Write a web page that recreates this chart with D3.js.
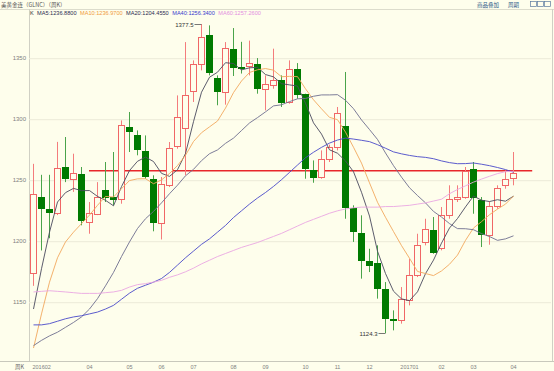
<!DOCTYPE html>
<html><head><meta charset="utf-8">
<script src="https://cdn.jsdelivr.net/npm/d3@7/dist/d3.min.js"></script>
<style>
html,body{margin:0;padding:0;background:#fefeec;}
svg{display:block;font-family:"Liberation Sans","DejaVu Sans",sans-serif;}
</style>
</head><body>
<svg id="chart" width="554" height="371"></svg>
<script>
// ---------------- data ----------------
const weeks = ["160212","160219","160226","160304","160311","160318","160325","160401","160408","160415","160422","160429","160506","160513","160520","160527","160603","160610","160617","160624","160701","160708","160715","160722","160729","160805","160812","160819","160826","160902","160909","160916","160923","160930","161007","161014","161021","161028","161104","161111","161118","161125","161202","161209","161216","161223","161230","170106","170113","170120","170127","170203","170210","170217","170224","170303","170310","170317","170324","170331","170407"];
const open  = [1173.5,1236,1225.7,1222.7,1260.4,1250.8,1254.4,1215.3,1222,1241.3,1235.8,1233.9,1293.2,1286.9,1273.2,1250.8,1214.5,1245.4,1277.6,1292.3,1322.4,1345.1,1368.9,1333.3,1321.9,1356.8,1342.5,1343.2,1344.5,1324,1327.9,1331.4,1313.7,1341,1320.5,1257.7,1252.2,1266.7,1276.8,1293.7,1226.8,1206.6,1183.3,1182,1160.1,1135.5,1134.7,1151.1,1172.1,1198.9,1208.5,1194.3,1221.3,1233.9,1235.8,1258.5,1233,1204.4,1228.4,1245.4,1251.6];
const high  = [1263,1254,1254,1281,1285,1271.3,1260.4,1231.7,1248,1264.5,1272.7,1298.6,1305.5,1290.4,1286.3,1253.6,1252.2,1280.9,1319.1,1362.8,1347.8,1377.5,1376.5,1335.5,1362.8,1374.3,1363,1364,1349.7,1335.5,1357.4,1335.5,1347.8,1345.6,1320.5,1265.8,1274,1278.7,1309.6,1338.3,1229,1220.8,1193.4,1196.2,1166.1,1142.9,1162,1185.2,1205.7,1218,1219.4,1227.6,1245.4,1245.4,1260.4,1264.5,1235.8,1232.2,1245.4,1257.7,1272.7];
const low   = [1163,1192,1202,1221,1248,1240,1212.6,1205.7,1221,1231.7,1229,1230.3,1272.7,1270,1250.8,1207.7,1201,1244,1275.4,1253.6,1313.7,1339.6,1335.5,1311,1311.5,1335,1337,1335.5,1320.5,1306.8,1324.6,1309.6,1312.3,1316.4,1250.8,1247.5,1250.8,1264.5,1274,1218,1199,1168.9,1174.3,1152.5,1124.3,1126.5,1132,1147,1170.2,1196.2,1189.3,1192.1,1218,1231.7,1234.4,1222.1,1194.8,1196.7,1226.2,1242.6,1245.4];
const close = [1238,1226,1222.4,1259.8,1250.8,1255.7,1216.1,1223,1235.8,1235,1233,1294.5,1289,1274,1252.2,1214.8,1246.2,1276.2,1301.4,1319.1,1345.1,1366.9,1337.4,1321.9,1358.2,1341.5,1341,1346,1324,1328.7,1332,1313,1341,1319.1,1258.5,1251.6,1266.7,1276.8,1304.9,1226.8,1207.1,1183.1,1179.2,1160.7,1135.5,1134.4,1151.9,1172.1,1196.7,1209.8,1190.2,1221.3,1233.9,1235.8,1257.1,1235,1204.4,1228.4,1243.2,1250.8,1255.7];

const ma5  = [1144,1177,1207,1231.7,1239.4,1242.9,1241,1241.1,1236.3,1233.1,1228.6,1244.3,1257.5,1265.1,1268.5,1264.9,1255.2,1252.7,1258.2,1271.5,1297.6,1321.7,1334,1338.1,1345.9,1345.2,1340,1341.7,1342.1,1336.2,1334.3,1328.7,1327.7,1326.8,1312.7,1296.6,1287.4,1274.5,1271.7,1265.4,1256.5,1239.7,1220.2,1191.4,1173.1,1158.6,1152.3,1150.9,1158.1,1173,1184.1,1198,1210.4,1218.2,1227.7,1236.6,1233.2,1232.1,1233.6,1232.4,1236.5];
const ma10 = [1112,1140,1166,1186,1199,1207,1214,1221,1229,1236.3,1235.8,1242.6,1249.3,1250.7,1250.8,1246.7,1249.8,1255.1,1261.6,1270,1281.3,1288.5,1293.3,1298.1,1308.7,1321.4,1330.9,1337.9,1340.1,1341.1,1339.8,1334.4,1334.7,1334.5,1324.5,1315.5,1308.1,1301.1,1299.2,1289,1276.6,1263.6,1247.4,1231.5,1219.2,1207.5,1196,1185.6,1174.8,1173.1,1171.4,1175.2,1180.7,1188.2,1200.3,1210.4,1215.6,1221.3,1225.9,1230,1236.6];
const ma20 = [1114,1118.3,1122,1125,1129,1133,1137.5,1144,1152.5,1163,1174,1187,1199,1210,1218,1224,1231,1238.5,1245.5,1253.2,1258.5,1265.6,1271.3,1274.4,1279.8,1284.1,1290.3,1296.5,1300.9,1305.6,1310.5,1311.4,1314,1316.3,1316.6,1318.4,1319.5,1319.5,1319.7,1315.1,1308.2,1299,1291.1,1283,1271.9,1261.5,1252.1,1243.4,1237,1231,1224,1219.4,1214,1209.9,1209.8,1209,1205.8,1203.4,1200.3,1201.5,1204];
const ma40 = [1131,1131,1132,1134,1136,1137.5,1138.5,1140,1141.5,1144,1147,1152,1157,1161,1163.5,1166,1169,1174,1180,1186,1191.5,1197,1201.5,1207,1212.5,1219,1224.5,1230,1235,1239.5,1244.5,1250,1256,1262,1268,1272.5,1276.5,1280,1282.5,1284.1,1283.3,1282.3,1281.2,1278.7,1275.8,1272.8,1271.2,1269.9,1268.9,1268.3,1267.2,1265.4,1264,1263.1,1263.2,1263.7,1262.7,1261.5,1260,1258.3,1256.1];
const ma60 = [1158,1158.5,1159,1158.5,1158,1157.4,1156.8,1156.8,1156.8,1157.4,1158,1159.3,1162,1164,1164.8,1166.1,1167.5,1170,1172,1174.5,1177.5,1181,1184,1187,1189.5,1192,1194.5,1196.5,1198.5,1201,1203.5,1206,1209,1212,1215,1217.5,1220,1222.5,1224.5,1226,1227,1227.5,1227.5,1227.5,1228,1228,1228.5,1229,1230,1231,1232.5,1234,1238.5,1242,1245,1248,1250.5,1252.8,1255,1256.6,1256.9];

const maNames  = ["MA5","MA10","MA20","MA40","MA60"];
const maLast   = ["1236.8800","1236.9700","1204.4550","1256.3400","1257.2600"];
const yTicks   = [1150,1200,1250,1300,1350];
const tickWeeks  = ["160212","160401","160506","160603","160701","160805","160902","161007","161104","161202","170106","170203","170303","170407"];
const tickLabels = ["201602","04","05","06","07","08","09","10","11","12","201701","02","03","04"];
const levelPrice = 1257.3;            // drawn horizontal line
const levelSpan  = ["160401", 62.4];  // from week, to fractional week index
const maxMark = {week:"160708", text:"1377.5"};
const minMark = {week:"161216", text:"1124.3"};

// ---------------- drawing ----------------
const W = 554, H = 371;
const plot = {l:29, r:552, t:9, b:361};
const bg = "#fefeec";
const UP = "#f06666", DOWN = "#007a00", UPW = "#f47c7c", DOWNW = "#4aa44a";
const maColors = ["#4a4a5e","#f2a85e","#6e6e8e","#4848c8","#eaa6e2"];
const legendColors = ["#2c2c50","#f09a40","#2c2c50","#3a3acc","#e48ee0"];

const svg = d3.select("#chart");
svg.append("rect").attr("width",W).attr("height",H).attr("fill",bg);

const xi = d3.scaleLinear().domain([0, weeks.length-1]).range([33, 513]);
const x = w => xi(weeks.indexOf(w));
const y = d3.scaleLinear().domain([1150,1350]).range([301.7,57.7]);

// frame
svg.append("line").attr("x1",0).attr("x2",W).attr("y1",plot.t+0.5).attr("y2",plot.t+0.5).attr("stroke","#dcdccc");
svg.append("line").attr("x1",plot.l+0.5).attr("x2",plot.l+0.5).attr("y1",plot.t).attr("y2",plot.b).attr("stroke","#d0d0c4");
svg.append("line").attr("x1",plot.r+0.5).attr("x2",plot.r+0.5).attr("y1",plot.t).attr("y2",plot.b).attr("stroke","#d0d0c4");
svg.append("line").attr("x1",0).attr("x2",W).attr("y1",plot.b+0.5).attr("y2",plot.b+0.5).attr("stroke","#c8c8bc");

// grid + y labels via axis
const yAxis = d3.axisLeft(y).tickValues(yTicks).tickSize(-(plot.r-plot.l-1)).tickPadding(3).tickFormat(d3.format("d"));
const gy = svg.append("g").attr("transform",`translate(${plot.l},0)`).call(yAxis);
gy.select(".domain").remove();
gy.selectAll(".tick line").attr("stroke","#ecebd8").attr("transform","translate(0,0.5)");
gy.selectAll(".tick text").attr("fill","#808080").attr("font-size","6px").attr("font-family","Liberation Sans, sans-serif");

// x labels via axis
const xAxis = d3.axisBottom(d3.scaleLinear().domain(xi.domain()).range(xi.range()))
  .tickValues(tickWeeks.map(w => weeks.indexOf(w)))
  .tickFormat((d,i) => tickLabels[i]).tickSize(0).tickPadding(3);
const gx = svg.append("g").attr("transform",`translate(0,${plot.b+1})`).call(xAxis);
gx.select(".domain").remove();
gx.selectAll(".tick text").attr("fill","#808080").attr("font-size","5.5px").attr("font-family","Liberation Sans, sans-serif");
gx.selectAll(".tick").filter((d,i)=>i===0).select("text").attr("text-anchor","start").attr("x",-1);
svg.append("text").attr("x",15).attr("y",plot.b+8).attr("font-size","5.5px").attr("fill","#666")
  .attr("font-family","Noto Sans CJK SC, sans-serif").text("周K");

// clip
svg.append("clipPath").attr("id","clip").append("rect")
  .attr("x",plot.l+1).attr("y",plot.t+1).attr("width",plot.r-plot.l-1).attr("height",plot.b-plot.t-1);
const g = svg.append("g").attr("clip-path","url(#clip)");

// level line
g.append("line").attr("x1",x(levelSpan[0])).attr("x2",xi(levelSpan[1]))
  .attr("y1",y(levelPrice)).attr("y2",y(levelPrice)).attr("stroke","#e8272b").attr("stroke-width",1.6);

// candles
const candles = weeks.map((w,i)=>({w, o:open[i], h:high[i], l:low[i], c:close[i]}));
const cg = g.append("g");
candles.forEach(d=>{
  const X = Math.round(x(d.w));
  const up = d.c >= d.o;
  cg.append("line").attr("x1",X+0.5).attr("x2",X+0.5).attr("y1",y(d.h)).attr("y2",y(d.l))
    .attr("stroke", up?UPW:DOWNW).attr("stroke-width",1);
  const yt = Math.round(y(Math.max(d.o,d.c))), yb = Math.round(y(Math.min(d.o,d.c)));
  if(up){
    cg.append("rect").attr("x",X-2.5).attr("y",yt+0.5).attr("width",6).attr("height",Math.max(1,yb-yt))
      .attr("fill",bg).attr("stroke",UP).attr("stroke-width",1);
  } else {
    cg.append("rect").attr("x",X-3).attr("y",yt).attr("width",7).attr("height",Math.max(1.5,yb-yt))
      .attr("fill",DOWN);
  }
});

// moving averages
const maSeries = [ma5,ma10,ma20,ma40,ma60];
const line = d3.line().x((d,i)=>xi(i)+0.5).y(d=>y(d));
maSeries.forEach((s,k)=>{
  g.append("path").attr("d",line(s)).attr("fill","none").attr("stroke",maColors[k]).attr("stroke-width",0.9);
});

// max/min annotations
function mark(m, val){
  const X = Math.round(x(m.week))+0.5, Y = Math.round(y(val))+0.5;
  svg.append("text").attr("x",X-8).attr("y",Y+2).attr("text-anchor","end")
    .attr("font-size","6px").attr("fill","#333").attr("font-family","Liberation Sans, sans-serif").text(m.text);
  svg.append("line").attr("x1",X-7).attr("x2",X).attr("y1",Y).attr("y2",Y).attr("stroke","#555").attr("stroke-width",0.8);
}
mark(maxMark, d3.max(high));
mark(minMark, d3.min(low));

// legend
const lg = svg.append("g").attr("font-size","5.6px").attr("font-family","Liberation Sans, sans-serif");
lg.append("text").attr("x",30).attr("y",15).attr("fill","#333").text("K");
let lx = 37;
maNames.forEach((n,k)=>{
  const t = lg.append("text").attr("x",lx).attr("y",15).attr("fill",legendColors[k]).text(`${n}:${maLast[k]}`);
  lx += t.node().getComputedTextLength() + 3.5;
});

// header
svg.append("text").attr("x",1).attr("y",6.5).attr("font-size","5.5px").attr("fill","#555")
  .attr("font-family","Noto Sans CJK SC, sans-serif").text("美黄金连（GLNC）（周K）");
svg.append("text").attr("x",477).attr("y",6.5).attr("font-size","5.5px").attr("fill","#2a5a8a")
  .attr("font-family","Noto Sans CJK SC, sans-serif").text("商品叠加");
svg.append("text").attr("x",508).attr("y",6.5).attr("font-size","5.5px").attr("fill","#2a5a8a")
  .attr("font-family","Noto Sans CJK SC, sans-serif").text("周期");
[530,537,544].forEach(bx=>{
  svg.append("rect").attr("x",bx+0.5).attr("y",1.5).attr("width",6).attr("height",5).attr("fill","none").attr("stroke","#5a7aa0").attr("stroke-width",0.7);
});
</script>
</body></html>
